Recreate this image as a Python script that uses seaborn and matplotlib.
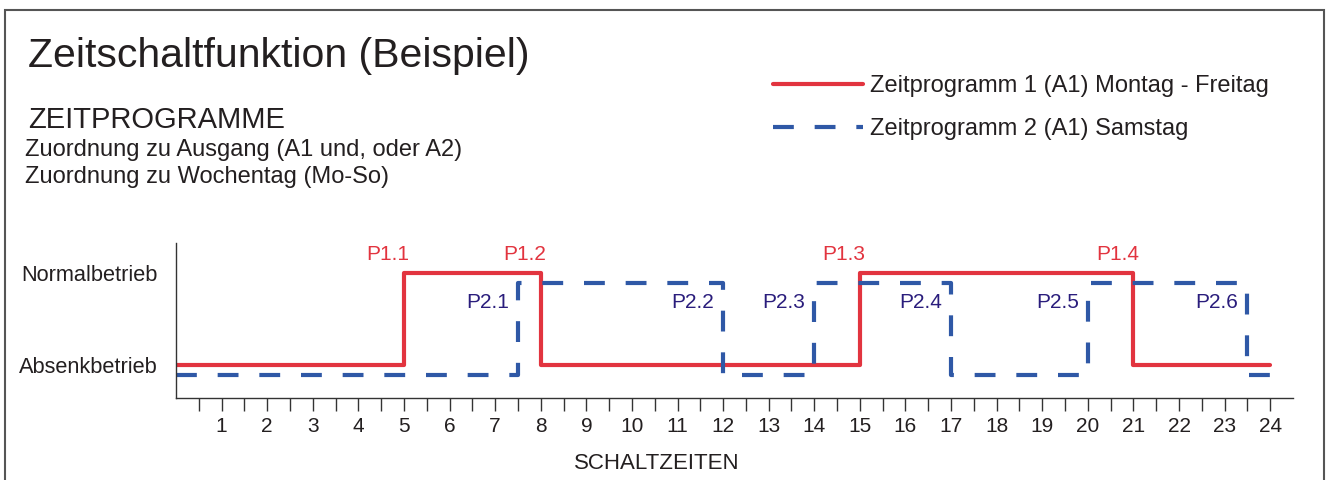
import matplotlib
matplotlib.use('Agg')
import matplotlib.pyplot as plt
import matplotlib.patches as patches
from matplotlib.lines import Line2D
import seaborn as sns
import pandas as pd

# ---------------- DATA ----------------
red_times = [0, 5, 8, 15, 21, 24]
red_state = [0, 1, 0, 1, 0, 0]
red_labels = ['P1.1', 'P1.2', 'P1.3', 'P1.4']

blue_times = [0, 7.5, 12, 14, 17, 20, 23.5, 24]
blue_state = [0, 1, 0, 1, 0, 1, 0, 0]
blue_labels = ['P2.1', 'P2.2', 'P2.3', 'P2.4', 'P2.5', 'P2.6']

state_names = ['Absenkbetrieb', 'Normalbetrieb']
hour_ticks = list(range(1, 25))
series_names = ['Zeitprogramm 1 (A1) Montag - Freitag',
                'Zeitprogramm 2 (A1) Samstag']

RED = '#e2343f'
BLUE = '#2f58a6'
NAVY = '#2a1d7c'
INK = '#231f20'

sns.set_theme(style='white')
plt.rcParams['font.family'] = ['Liberation Sans', 'DejaVu Sans']
plt.rcParams['text.color'] = INK

fig = plt.figure(figsize=(13.28, 4.8), dpi=100)
ax = fig.add_axes([176 / 1328, 82 / 480, (1293 - 176) / 1328, 155 / 480])

df_red = pd.DataFrame({'hour': red_times, 'state': red_state})
df_blue = pd.DataFrame({'hour': blue_times, 'state': blue_state})
df_blue['shown'] = df_blue['state'] - 0.11  # draw slightly below red line

sns.lineplot(data=df_red, x='hour', y='state', drawstyle='steps-post',
             estimator=None, color=RED, lw=3, ax=ax)
sns.lineplot(data=df_blue, x='hour', y='shown', drawstyle='steps-post',
             estimator=None, color=BLUE, lw=3, ax=ax)
ax.lines[-1].set_dashes([5, 5])

# switch point labels
for t, lab in zip(red_times[1:-1], red_labels):
    ax.text(t + 0.12, 1.2, lab, color=RED, fontsize=15, ha='right', va='center')
for t, lab in zip(blue_times[1:-1], blue_labels):
    ax.text(t - 0.2, 0.68, lab, color=NAVY, fontsize=15, ha='right', va='center')

ax.set_xlim(0, 24.5)
ax.set_ylim(-0.36, 1.33)
ax.set_xticks(hour_ticks)
ax.set_xticklabels([str(h) for h in hour_ticks], fontsize=15, color=INK)
ax.set_xticks([h - 0.5 for h in hour_ticks], minor=True)
ax.tick_params(axis='x', which='both', direction='out', length=9, width=1,
               color='#333333', pad=5, bottom=True)
ax.set_yticks([0, 1])
ax.set_yticklabels(state_names, fontsize=15.7, color=INK)
ax.tick_params(axis='y', length=0, pad=13)

for side in ['top', 'right']:
    ax.spines[side].set_visible(False)
for side in ['left', 'bottom']:
    ax.spines[side].set_color('#333333')
    ax.spines[side].set_linewidth(1)

ax.set_xlabel('SCHALTZEITEN', fontsize=16, color=INK)
ax.xaxis.set_label_coords((657 - 176) / (1293 - 176), -0.355)
ax.set_ylabel('')

# headings
fig.text(28 / 1328, 1 - 67 / 480, 'Zeitschaltfunktion (Beispiel)',
         fontsize=29.5, va='baseline', ha='left')
fig.text(28 / 1328, 1 - 128 / 480, 'ZEITPROGRAMME',
         fontsize=21, va='baseline', ha='left')
fig.text(25 / 1328, 1 - 156 / 480, 'Zuordnung zu Ausgang (A1 und, oder A2)',
         fontsize=17, va='baseline', ha='left')
fig.text(25 / 1328, 1 - 183 / 480, 'Zuordnung zu Wochentag (Mo-So)',
         fontsize=17, va='baseline', ha='left')

# legend
handles = [Line2D([], [], color=RED, lw=3),
           Line2D([], [], color=BLUE, lw=3, dashes=[5, 5])]
fig.legend(handles, series_names, loc='upper left',
           bbox_to_anchor=(773 / 1328, 1 - 75 / 480), frameon=False,
           fontsize=17, handlelength=3.8, handletextpad=0.3,
           labelspacing=0.9, borderpad=0, borderaxespad=0)

# outer frame
fig.patches.append(patches.Rectangle((5 / 1328, -0.1), (1324 - 5) / 1328,
                                     1.1 - 10 / 480, transform=fig.transFigure,
                                     fill=False, edgecolor='#555555', lw=1.5))

fig.savefig('out.png', dpi=100)
